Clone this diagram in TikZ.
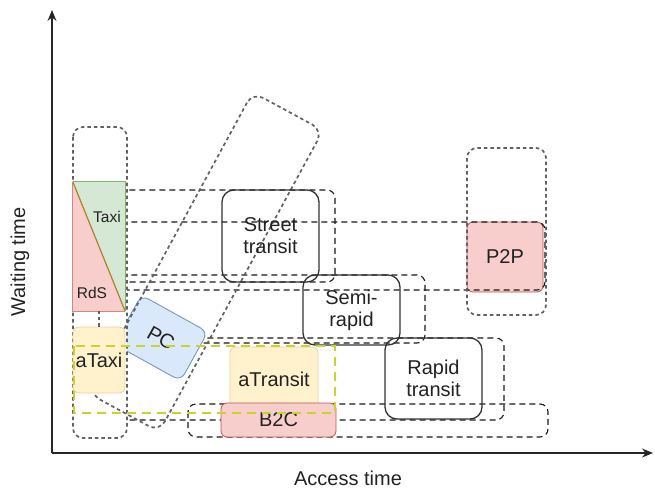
\documentclass[tikz,border=0pt]{standalone}
\usepackage{fontspec}
\setmainfont{Liberation Sans}
\usetikzlibrary{arrows.meta}
\definecolor{pinkf}{HTML}{F8CECC}
\definecolor{pinks}{HTML}{B85450}
\definecolor{greenf}{HTML}{D5E8D4}
\definecolor{greens}{HTML}{82B366}
\definecolor{yelf}{HTML}{FFF2CC}
\definecolor{yels}{HTML}{D6B656}
\definecolor{bluef}{HTML}{DAE8FC}
\definecolor{blues}{HTML}{6C8EBF}
\definecolor{limey}{HTML}{CAD32E}
\definecolor{txt}{HTML}{222222}
\begin{document}
\begin{tikzpicture}[x=1pt,y=-1pt,
  lbl/.style={font=\fontsize{20}{22}\selectfont, text=txt, align=center},
  small/.style={font=\fontsize{15.5}{18}\selectfont, text=txt},
  solidbox/.style={draw=black!80, line width=1.3pt, rounded corners=12pt, inner sep=0pt, lbl},
  dashbox/.style={draw=black!90, line width=1.1pt, dash pattern=on 6pt off 4pt, rounded corners=8pt},
  dotbox/.style={draw=black!62, line width=1.7pt, dash pattern=on 3.5pt off 3pt, rounded corners=10pt},
  pinkbox/.style={fill=pinkf, draw=pinks, line width=0.8pt, rounded corners=6pt, inner sep=0pt, lbl},
  yelbox/.style={fill=yelf, draw=yels!60, line width=0.8pt, rounded corners=6pt, inner sep=0pt, lbl},
  bluebox/.style={fill=bluef, draw=blues, line width=0.8pt, rounded corners=8pt, inner sep=0pt, lbl},
  limebox/.style={draw=limey, line width=2.2pt, dash pattern=on 9pt off 6pt},
  axis/.style={draw=black!85, line width=1.2pt, -{Stealth[length=11pt,width=9pt]}}
]
\useasboundingbox (0,0) rectangle (655,490);

% P2P box (below its dashed group)
\node[pinkbox, minimum width=76pt, minimum height=70pt] (p2p) at (505,257) {P2P};

% dashed group rectangles
\draw[dashbox] (100,190) rectangle (335,282);
\draw[dashbox] (100,222) rectangle (545,290);
\draw[dashbox] (100,275) rectangle (425,343);
\draw[dashbox] (100,338) rectangle (504,420);
\draw[dashbox] (188,404) rectangle (548,437);

% P2P dotted column
\draw[dotbox] (467,148) rectangle (546,315);

% PC
\node[bluebox, rotate=-29, minimum width=76pt, minimum height=56pt] (pc) at (161,338) {PC};

% left dotted column (white, covers the left ends)
\draw[dotbox, fill=white] (73,127) rectangle (127,438);

% big diagonal dotted box
\node[dotbox, rotate=61.5, minimum width=343pt, minimum height=80pt, rounded corners=12pt] (diag) at (206,262) {};

% Taxi / RdS split box
\node[minimum width=52pt, minimum height=129pt, inner sep=0pt] (taxibox) at (99,246.5) {};
\fill[pinkf] (taxibox.north west) -- (taxibox.south east) -- (taxibox.south west) -- cycle;
\fill[greenf] (taxibox.north west) -- (taxibox.north east) -- (taxibox.south east) -- cycle;
\draw[pinks!70, line width=0.8pt] (taxibox.north west) -- (taxibox.south west) -- (taxibox.south east);
\draw[greens, line width=0.8pt] (taxibox.north west) -- (taxibox.north east) -- (taxibox.south east);
\draw[brown!70!olive, line width=1.2pt] (taxibox.north west) -- (taxibox.south east);
\node[small] (taxi) at (107,217) {Taxi};
\node[small] (rds) at (92,293) {RdS};

% aTaxi
\node[yelbox, minimum width=52pt, minimum height=66pt] (ataxi) at (99,360) {aTaxi};
\draw[dotbox] (ataxi.north) -- (taxibox.south -| ataxi.north);

% solid boxes
\node[solidbox, minimum width=97pt, minimum height=92pt] (street) at (270.5,236) {Street\\transit};
\node[solidbox, minimum width=97pt, minimum height=70pt] (semi) at (351.5,310) {Semi-\\rapid};
\node[solidbox, minimum width=97pt, minimum height=81pt] (rapid) at (433.5,378.5) {Rapid\\transit};

% aTransit and B2C
\node[yelbox, minimum width=88pt, minimum height=65pt] (atransit) at (274,379.5) {aTransit};
\node[pinkbox, minimum width=115pt, minimum height=34pt] (b2c) at (278.5,420) {B2C};

% lime dashed group
\draw[limebox] (74,346) rectangle (335,413);

% axes
\coordinate (O) at (52,453);
\coordinate (ytop) at (52,10);
\coordinate (xend) at (653,453);
\draw[axis] (O) -- (ytop);
\draw[axis] (O) -- (xend);
\node[lbl, rotate=90] (wlab) at (20,262) {Waiting time};
\node[lbl] (alab) at (348,478) {Access time};
\end{tikzpicture}
\end{document}
